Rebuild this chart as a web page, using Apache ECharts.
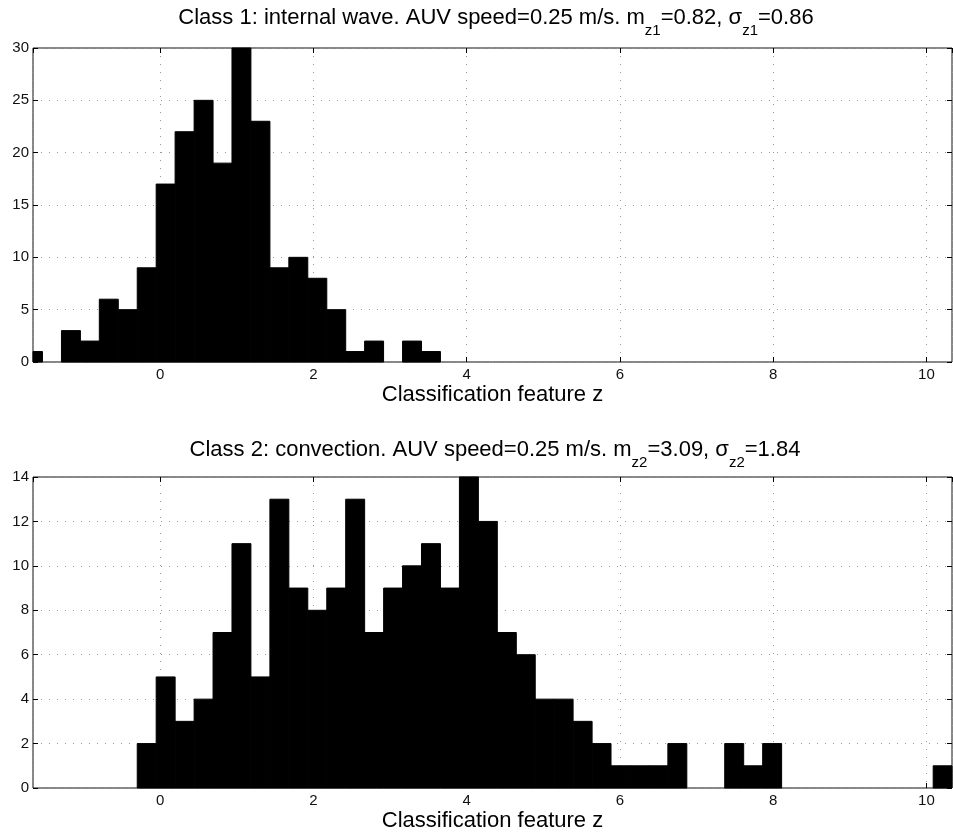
<!DOCTYPE html>
<html><head><meta charset="utf-8">
<script src="https://cdn.jsdelivr.net/npm/echarts@6/dist/echarts.min.js"></script>
<style>html,body{margin:0;padding:0;background:#fff}#c{width:953px;height:836px}</style>
</head><body><div id="c"></div>
<script>
// Histogram bin centres (classification feature z)
const binCenters = [
  -1.658, -1.411, -1.163, -0.916, -0.669, -0.421, -0.174, 0.073, 0.320, 0.568,
  0.815, 1.062, 1.310, 1.557, 1.804, 2.052, 2.299, 2.546, 2.793, 3.041,
  3.288, 3.535, 3.783, 4.030, 4.277, 4.525, 4.772, 5.019, 5.266, 5.514,
  5.761, 6.008, 6.256, 6.503, 6.750, 6.998, 7.245, 7.492, 7.739, 7.987,
  8.234, 8.481, 8.729, 8.976, 9.223, 9.471, 9.718, 9.965, 10.212
];
const binWidth = 0.2473;
const xMin = -1.658;
const xMax = 10.334;

// Class 1: internal wave counts
const class1Counts = [
  1, 0, 3, 2, 6, 5, 9, 17, 22, 25,
  19, 30, 23, 9, 10, 8, 5, 1, 2, 0,
  2, 1, 0, 0, 0, 0, 0, 0, 0, 0,
  0, 0, 0, 0, 0, 0, 0, 0, 0, 0,
  0, 0, 0, 0, 0, 0, 0, 0, 0
];
// Class 2: convection counts
const class2Counts = [
  0, 0, 0, 0, 0, 0, 2, 5, 3, 4,
  7, 11, 5, 13, 9, 8, 9, 13, 7, 9,
  10, 11, 9, 14, 12, 7, 6, 4, 4, 3,
  2, 1, 1, 1, 2, 0, 0, 2, 1, 2,
  0, 0, 0, 0, 0, 0, 0, 0, 1
];
const yMax1 = 30, yStep1 = 5;
const yMax2 = 14, yStep2 = 2;

const title1 = '{n|Class 1: internal wave. AUV speed=0.25 m/s. m}{s|z1}{n|=0.82, σ}{s|z1}{n|=0.86}';
const title2 = '{n|Class 2: convection. AUV speed=0.25 m/s. m}{s|z2}{n|=3.09, σ}{s|z2}{n|=1.84}';
const xName = 'Classification feature z';

const FONT = 'Liberation Sans, Arial, Helvetica, sans-serif';
const chart = echarts.init(document.getElementById('c'), null, {renderer: 'canvas'});

const richTitle = {
  n: {fontSize: 22, fontWeight: 'normal', fontFamily: FONT, color: '#000', lineHeight: 26},
  s: {fontSize: 15, fontWeight: 'normal', fontFamily: FONT, color: '#000', lineHeight: 26, padding: [25, 0, 0, 0]}
};

function renderBar(params, api) {
  const c = api.value(0), v = api.value(1);
  if (!v) return null;
  const p0 = api.coord([c - binWidth / 2, v]);
  const p1 = api.coord([c + binWidth / 2, 0]);
  const cs = params.coordSys;
  const shape = echarts.graphic.clipRectByRect(
    {x: p0[0], y: p0[1], width: p1[0] - p0[0], height: p1[1] - p0[1]},
    {x: cs.x, y: cs.y, width: cs.width, height: cs.height}
  );
  return shape && {type: 'rect', shape: shape, style: {fill: '#000', stroke: '#000', lineWidth: 1}};
}

const splitLineStyle = {show: true, lineStyle: {color: '#999', width: 1, type: [1, 7]}};
const tickInside = {show: true, inside: true, length: 5, lineStyle: {color: '#000'}};
const noLine = {show: false, onZero: false};

function mainX(gridIndex) {
  return {
    type: 'value', gridIndex: gridIndex, min: xMin, max: xMax, position: 'bottom',
    axisLine: noLine, axisTick: tickInside,
    axisLabel: {fontSize: 15, color: '#111', margin: 5, showMinLabel: false, showMaxLabel: false, fontFamily: FONT},
    splitLine: splitLineStyle,
    name: xName, nameLocation: 'middle', nameGap: 22,
    nameTextStyle: {fontSize: 22, color: '#000', fontFamily: FONT}
  };
}
function topX(gridIndex) {
  return {
    type: 'value', gridIndex: gridIndex, min: xMin, max: xMax, position: 'top',
    axisLine: noLine, axisTick: tickInside, axisLabel: {show: false}, splitLine: {show: false}
  };
}
function leftY(gridIndex, max, step) {
  return {
    type: 'value', gridIndex: gridIndex, min: 0, max: max, interval: step, position: 'left',
    axisLine: noLine, axisTick: tickInside,
    axisLabel: {fontSize: 15, color: '#111', margin: 4, fontFamily: FONT},
    splitLine: splitLineStyle
  };
}
function rightY(gridIndex, max, step) {
  return {
    type: 'value', gridIndex: gridIndex, min: 0, max: max, interval: step, position: 'right',
    axisLine: noLine, axisTick: tickInside, axisLabel: {show: false}, splitLine: {show: false}
  };
}

chart.setOption({
  animation: false,
  backgroundColor: '#fff',
  textStyle: {fontFamily: FONT},
  title: [
    {text: title1, left: 496, top: 5, textAlign: 'center', padding: 0,
     textStyle: {fontWeight: 'normal', fontSize: 22, color: '#000', rich: richTitle}},
    {text: title2, left: 495, top: 437, textAlign: 'center', padding: 0,
     textStyle: {fontWeight: 'normal', fontSize: 22, color: '#000', rich: richTitle}}
  ],
  grid: [
    {left: 33, right: 1, top: 48, height: 314, show: true, borderColor: '#111', borderWidth: 1, backgroundColor: 'transparent'},
    {left: 33, right: 1, top: 477, height: 311, show: true, borderColor: '#111', borderWidth: 1, backgroundColor: 'transparent'}
  ],
  xAxis: [mainX(0), topX(0), mainX(1), topX(1)],
  yAxis: [leftY(0, yMax1, yStep1), rightY(0, yMax1, yStep1), leftY(1, yMax2, yStep2), rightY(1, yMax2, yStep2)],
  series: [
    {type: 'custom', xAxisIndex: 0, yAxisIndex: 0, renderItem: renderBar, encode: {x: 0, y: 1},
     data: binCenters.map((c, i) => [c, class1Counts[i]])},
    {type: 'custom', xAxisIndex: 2, yAxisIndex: 2, renderItem: renderBar, encode: {x: 0, y: 1},
     data: binCenters.map((c, i) => [c, class2Counts[i]])}
  ]
});
</script>
</body></html>
